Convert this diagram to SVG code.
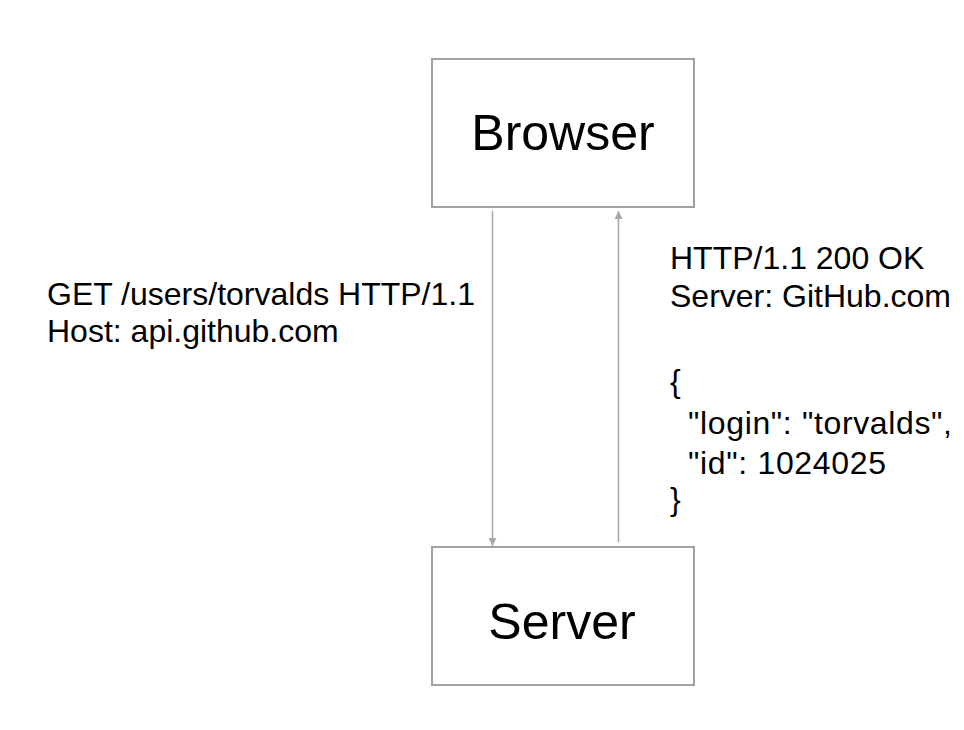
<svg xmlns="http://www.w3.org/2000/svg" width="964" height="730" viewBox="0 0 964 730">
<style>
.box{fill:#fff;stroke:#a0a0a0;stroke-width:2}
.lbl{font-family:"Liberation Sans",Arial,sans-serif;font-size:50px;fill:#000;text-anchor:middle}
.txt{font-family:"Liberation Sans",Arial,sans-serif;font-size:32px;fill:#000}
.edge{stroke:#a8a8a8;stroke-width:1.5;fill:none}
</style>
<defs>
<marker id="ah" viewBox="0 0 10 10" refX="10" refY="5" markerWidth="8" markerHeight="8" markerUnits="userSpaceOnUse" orient="auto">
<path d="M0,0 L10,5 L0,10 z" fill="#a8a8a8"/>
</marker>
</defs>
<rect width="964" height="730" fill="#fff"/>
<g id="connectors">
<line class="edge" x1="492.5" y1="211" x2="492.5" y2="546" marker-end="url(#ah)"/>
<line class="edge" x1="618.5" y1="542" x2="618.5" y2="211" marker-end="url(#ah)"/>
</g>
<g id="browser">
<rect class="box" x="432" y="59" width="262" height="148"/>
<text class="lbl" x="563" y="150">Browser</text>
</g>
<g id="server">
<rect class="box" x="432" y="547" width="262" height="138"/>
<text class="lbl" x="562" y="639">Server</text>
</g>
<g id="request-label">
<text class="txt" x="47" y="305">GET /users/torvalds HTTP/1.1</text>
<text class="txt" x="47" y="342">Host: api.github.com</text>
</g>
<g id="response-label">
<text class="txt" x="670" y="269">HTTP/1.1 200 OK</text>
<text class="txt" x="670" y="307">Server: GitHub.com</text>
<text class="txt" x="670" y="392">{</text>
<text class="txt" x="688" y="434" textLength="264" lengthAdjust="spacing">"login": "torvalds",</text>
<text class="txt" x="688" y="474" textLength="198" lengthAdjust="spacing">"id": 1024025</text>
<text class="txt" x="670" y="510">}</text>
</g>
</svg>
